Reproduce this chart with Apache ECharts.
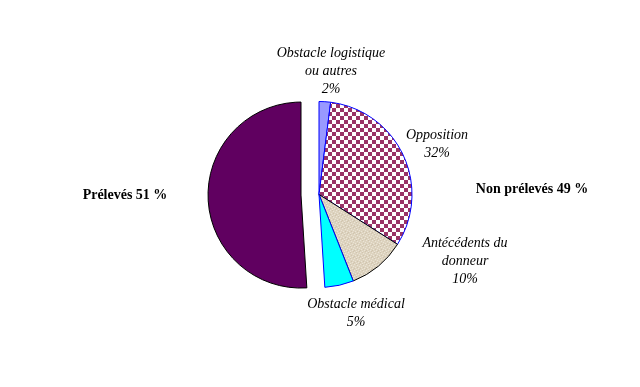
<!DOCTYPE html>
<html><head><meta charset="utf-8">
<script src="https://cdn.jsdelivr.net/npm/echarts@6/dist/echarts.min.js"></script>
<style>html,body{margin:0;padding:0;background:#fff}#c{width:640px;height:387px}</style>
</head><body><div id="c"></div>
<script>
var categories = ['Obstacle logistique\nou autres', 'Opposition', 'Antécédents du\ndonneur', 'Obstacle médical', 'Prélevés'];
var values = [2, 32, 10, 5, 51];
var groupLabels = ['Prélevés', 'Non prélevés'];
var groupValues = [51, 49];

function checker() {
  var c = document.createElement('canvas'); c.width = 8; c.height = 8;
  var g = c.getContext('2d');
  g.fillStyle = '#ffffff'; g.fillRect(0, 0, 8, 8);
  g.fillStyle = '#993366'; g.fillRect(0, 0, 4, 4); g.fillRect(4, 4, 4, 4);
  return c;
}
function speckle() {
  var c = document.createElement('canvas'); c.width = 6; c.height = 6;
  var g = c.getContext('2d');
  g.fillStyle = '#ddd3bf'; g.fillRect(0, 0, 6, 6);
  g.fillStyle = '#ebe4d6';
  [[0,0],[3,1],[1,3],[4,4],[5,2],[2,5]].forEach(function (p) { g.fillRect(p[0], p[1], 1, 1); });
  g.fillStyle = '#d0c4ae';
  [[2,0],[5,5],[0,4],[3,3]].forEach(function (p) { g.fillRect(p[0], p[1], 1, 1); });
  return c;
}

var styles = [
  { color: '#9999ff', borderColor: '#0000ff' },
  { color: { image: checker(), repeat: 'repeat' }, borderColor: '#0000ff' },
  { color: { image: speckle(), repeat: 'repeat' }, borderColor: '#000000' },
  { color: '#00ffff', borderColor: '#0000ff' },
  { color: '#600060', borderColor: '#000000' }
];

var data = categories.map(function (n, i) {
  return { name: n, value: values[i], selected: i === 4,
    itemStyle: { color: styles[i].color, borderColor: styles[i].borderColor, borderWidth: 1 } };
});

var labelPos = [[331, 53], [437, 135], [465, 243], [356, 304]];
var graphics = labelPos.map(function (p, i) {
  return { type: 'text', x: p[0], y: p[1] - 9,
    style: { text: categories[i] + '\n' + values[i] + '%', textAlign: 'center', textVerticalAlign: 'top',
      font: 'italic 14px "Liberation Serif"', fill: '#000', lineHeight: 18 } };
});
graphics.push({ type: 'text', x: 125, y: 195,
  style: { text: groupLabels[0] + ' ' + groupValues[0] + ' %', textAlign: 'center', textVerticalAlign: 'middle',
    font: 'bold 14px "Liberation Serif"', fill: '#000' } });
graphics.push({ type: 'text', x: 532, y: 189,
  style: { text: groupLabels[1] + ' ' + groupValues[1] + ' %', textAlign: 'center', textVerticalAlign: 'middle',
    font: 'bold 14px "Liberation Serif"', fill: '#000' } });

var chart = echarts.init(document.getElementById('c'), null, { renderer: 'canvas' });
chart.setOption({
  animation: false,
  graphic: graphics,
  series: [{
    type: 'pie', center: [319, 194.5], radius: 93, startAngle: 90, clockwise: true,
    selectedMode: 'single', selectedOffset: 18,
    label: { show: false }, labelLine: { show: false },
    emphasis: { disabled: true },
    data: data
  }]
});
</script></body></html>
